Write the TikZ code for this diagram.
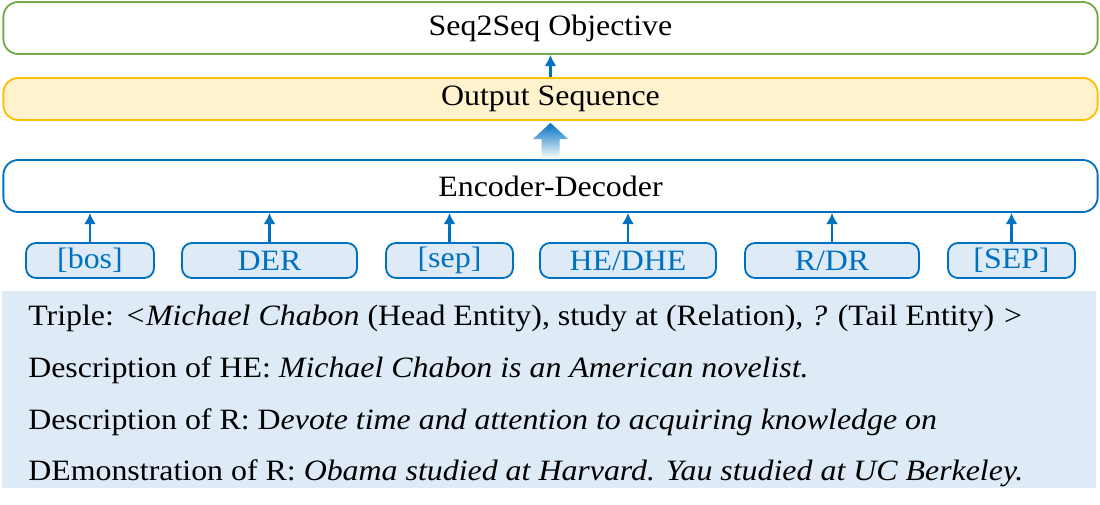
\documentclass[tikz,border=0pt]{standalone}
\usepackage{fontspec}
\setmainfont{Liberation Serif}[FakeStretch=1.08]
\usepackage{tikz}
\usetikzlibrary{positioning,arrows.meta}
\definecolor{objgreen}{HTML}{70AD47}
\definecolor{outorange}{HTML}{FFC000}
\definecolor{outfill}{HTML}{FFF2CC}
\definecolor{linkblue}{HTML}{0070C0}
\definecolor{tokfill}{HTML}{DEEBF7}
\begin{document}
\begin{tikzpicture}[x=0.025cm,y=-0.025cm]
\tikzstyle{stage}=[rectangle, rounded corners=0.375cm, line width=1.3pt, minimum width=27.35cm, minimum height=1.3cm, inner sep=0pt, font=\fontsize{21}{25}\selectfont]
\tikzstyle{token}=[rectangle, rounded corners=0.25cm, line width=1.3pt, draw=linkblue, fill=tokfill, text=linkblue, minimum height=0.875cm, inner sep=0pt, font=\fontsize{21}{25}\selectfont]
\tikzstyle{desc}=[anchor=base west, inner sep=0pt, font=\fontsize{21}{25}\selectfont]
\tikzstyle{connect}=[-{Latex[length=2.8mm,width=3mm]}, line width=1.6pt, draw=linkblue]
\useasboundingbox (0,0) rectangle (1100,505);
	\node[stage, draw=objgreen] (obj) at (550.5,28) {Seq2Seq Objective};
	\node[stage, draw=outorange, fill=outfill, minimum height=1.05cm] (out) at (550.5,99) {Output Sequence};
	\node[stage, draw=linkblue] (enc) at (550.5,186) {Encoder-Decoder};

	\node[token, minimum width=3.2cm] (bos) at (90,260.5) {[bos]};
	\node[token, minimum width=4.375cm] (der) at (269.5,260.5) {DER};
	\node[token, minimum width=3.175cm] (sep) at (449.5,260.5) {[sep]};
	\node[token, minimum width=4.4cm] (he) at (628,260.5) {HE/DHE};
	\node[token, minimum width=4.35cm] (rel) at (832,260.5) {R/DR};
	\node[token, minimum width=3.175cm] (SEP) at (1011.5,260.5) {[SEP]};

	\fill[tokfill] (2,291) rectangle (1096,488);
	\node[desc] (l_1) at (28,325) {Triple: \textit{<Michael Chabon} (Head Entity), study at (Relation), \textit{?} (Tail Entity) \textit{>}};
	\node[desc] (l_2) at (28,377) {Description of HE: \textit{Michael Chabon is an American novelist.}};
	\node[desc] (l_3) at (28,429) {Description of R: D\textit{evote time and attention to acquiring knowledge on}};
	\node[desc] (l_4) at (28,480) {DEmonstration of R: \textit{Obama studied at Harvard. Yau studied at UC Berkeley.}};

	\shade[top color=linkblue, bottom color=white]
		([xshift=-0.225cm]enc.north) -- ([xshift=-0.225cm,yshift=0.5cm]enc.north)
		-- ([xshift=-0.44cm,yshift=0.5cm]enc.north) -- ([yshift=-0.05cm]out.south)
		-- ([xshift=0.44cm,yshift=0.5cm]enc.north) -- ([xshift=0.225cm,yshift=0.5cm]enc.north)
		-- ([xshift=0.225cm]enc.north) -- cycle;

	\path
		(out) edge [connect] (obj)
		(bos) edge [connect] (bos |- enc.south)
		(der) edge [connect] (der |- enc.south)
		(sep) edge [connect] (sep |- enc.south)
		(he) edge [connect] (he |- enc.south)
		(rel) edge [connect] (rel |- enc.south)
		(SEP) edge [connect] (SEP |- enc.south);

\end{tikzpicture}
\end{document}
